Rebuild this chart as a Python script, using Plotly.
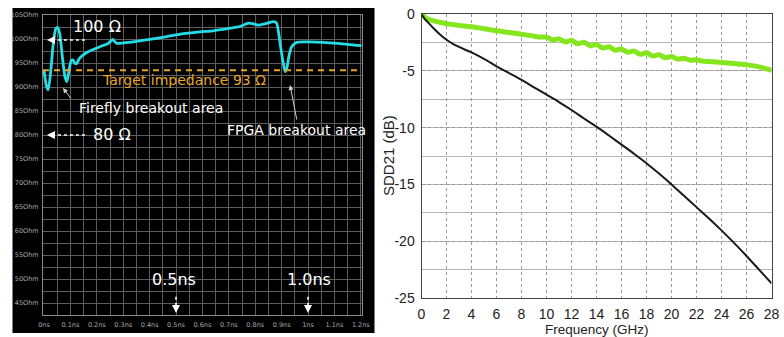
import plotly.graph_objects as go

# ---------------- Left panel: TDR impedance ----------------
tdr_ns = [0.0, 0.008, 0.016, 0.025, 0.035, 0.045, 0.052, 0.06, 0.07, 0.08, 0.087, 0.095,
          0.103, 0.11, 0.116, 0.122, 0.135, 0.149, 0.165, 0.181, 0.212, 0.244, 0.26, 0.275,
          0.3, 0.338, 0.4, 0.465, 0.528, 0.591, 0.641, 0.7, 0.742, 0.774, 0.79, 0.81, 0.84,
          0.869, 0.881, 0.888, 0.894, 0.903, 0.913, 0.92, 0.928, 0.938, 0.957, 1.0, 1.083,
          1.15, 1.203]
tdr_ohm = [93.5, 90.5, 89.4, 93.0, 99.0, 102.2, 102.4, 101.0, 96.0, 92.0, 91.1, 93.5,
           95.5, 95.6, 95.0, 94.8, 96.0, 96.7, 97.3, 97.7, 98.4, 99.1, 99.9, 99.1,
           99.2, 99.4, 99.9, 100.5, 101.1, 101.5, 101.7, 102.2, 102.6, 103.3, 103.2, 102.9, 103.2,
           103.6, 103.3, 101.5, 99.2, 96.0, 93.2, 94.0, 96.5, 98.4, 99.3, 99.4, 99.2,
           98.9, 98.6]
target_ohm = 93.5
tdr_xtick_vals = [0, 0.1, 0.2, 0.3, 0.4, 0.5, 0.6, 0.7, 0.8, 0.9, 1.0, 1.1, 1.2]
tdr_xtick_text = ["0ns", "0.1ns", "0.2ns", "0.3ns", "0.4ns", "0.5ns", "0.6ns", "0.7ns",
                  "0.8ns", "0.9ns", "1ns", "1.1ns", "1.2ns"]
tdr_ytick_vals = [45, 50, 55, 60, 65, 70, 75, 80, 85, 90, 95, 100, 105]
tdr_ytick_text = [f"{v}Ohm" for v in tdr_ytick_vals]

# ---------------- Right panel: SDD21 ----------------
black_f = [0, 0.25, 0.5, 1, 1.5, 2, 2.5, 3, 3.5, 4, 5, 6, 7, 8, 9, 10, 11, 12, 13, 14, 15, 16,
           17, 18, 19, 20, 21, 22, 23, 24, 25, 26, 27, 28]
black_db = [0, -0.42, -0.72, -1.3, -1.82, -2.27, -2.62, -2.9, -3.15, -3.38, -3.95, -4.6, -5.2,
            -5.8, -6.45, -7.1, -7.75, -8.45, -9.2, -9.92, -10.7, -11.5, -12.3, -13.14, -14.05,
            -15.0, -16.0, -17.0, -18.0, -19.05, -20.15, -21.3, -22.5, -23.7]

green_f = [0, 0.5, 1, 2, 3, 4, 5, 6, 7, 8, 9, 9.5, 10, 10.5, 11, 11.5, 12, 12.5, 13, 13.5,
           14, 14.5, 15, 15.5, 16, 16.5, 17, 17.5, 18, 18.5, 19, 19.5, 20, 20.5, 21, 21.5,
           22, 22.5, 23, 24, 25, 26, 27, 28]
green_db = [0, -0.45, -0.6, -0.85, -1.0, -1.13, -1.3, -1.48, -1.62, -1.78, -1.95, -2.03,
            -2.04, -2.29, -2.19, -2.46, -2.33, -2.62, -2.49, -2.81, -2.69, -3.0, -2.88,
            -3.19, -3.07, -3.37, -3.25, -3.55, -3.42, -3.7, -3.59, -3.85, -3.75, -3.97,
            -3.9, -4.07, -4.03, -4.15, -4.18, -4.26, -4.36, -4.48, -4.65, -4.95]
sdd_xtick_vals = list(range(0, 29, 2))
sdd_ytick_vals = [0, -5, -10, -15, -20, -25]
sdd_ytick_text = ["0", "-5", "-10", "-15", "-20", "-25"]

W, H = 784, 337
ARIAL = "Liberation Sans, Arial, Helvetica, sans-serif"


def px(x):
    return x / W


def py(y):
    return (H - y) / H


fig = go.Figure()

fig.add_trace(go.Scatter(x=tdr_ns, y=tdr_ohm, mode="lines", xaxis="x", yaxis="y",
                         line=dict(color="#22dde6", width=2.8, shape="spline", smoothing=0.6),
                         showlegend=False, hoverinfo="skip"))
fig.add_trace(go.Scatter(x=green_f, y=green_db, mode="lines", xaxis="x2", yaxis="y2",
                         line=dict(color="#86e61e", width=5, shape="spline", smoothing=0.8),
                         showlegend=False, hoverinfo="skip"))
fig.add_trace(go.Scatter(x=black_f, y=black_db, mode="lines", xaxis="x2", yaxis="y2",
                         line=dict(color="#1a1a1a", width=2, shape="spline", smoothing=0.8),
                         showlegend=False, hoverinfo="skip"))

shapes = [
    dict(type="rect", xref="paper", yref="paper", x0=px(12.5), x1=px(374.5),
         y0=py(333), y1=py(8), fillcolor="black", line=dict(width=0), layer="below"),
    dict(type="line", xref="x domain", yref="y", x0=0, x1=1, y0=target_ohm, y1=target_ohm,
         line=dict(color="#e8a628", width=2, dash="6px,5px"), layer="above"),
    dict(type="line", xref="x", yref="y", x0=0.155, x1=0.02, y0=99.8, y1=99.8,
         line=dict(color="white", width=1.6, dash="dot")),
    dict(type="line", xref="x", yref="y", x0=0.155, x1=0.02, y0=80.0, y1=80.0,
         line=dict(color="white", width=1.6, dash="dot")),
    dict(type="line", xref="x", yref="y", x0=0.5, x1=0.5, y0=46.3, y1=43.9,
         line=dict(color="white", width=1.6, dash="dot")),
    dict(type="line", xref="x", yref="y", x0=1.0, x1=1.0, y0=46.3, y1=43.9,
         line=dict(color="white", width=1.6, dash="dot")),
]

lfont = dict(family="DejaVu Sans", color="white")
annotations = [
    dict(x=0.201, y=102.5, xref="x", yref="y", text="100 Ω", showarrow=False,
         font=dict(lfont, size=16)),
    dict(x=0.53, y=91.4, xref="x", yref="y", text="Target impedance 93 Ω", showarrow=False,
         font=dict(family="DejaVu Sans", color="#e8a628", size=14)),
    dict(x=0.407, y=85.6, xref="x", yref="y", text="Firefly breakout area", showarrow=False,
         font=dict(lfont, size=14)),
    dict(x=0.256, y=80.2, xref="x", yref="y", text="80 Ω", showarrow=False,
         font=dict(lfont, size=16)),
    dict(x=0.955, y=81.0, xref="x", yref="y", text="FPGA breakout area", showarrow=False,
         font=dict(lfont, size=14)),
    dict(x=0.494, y=50.0, xref="x", yref="y", text="0.5ns", showarrow=False,
         font=dict(lfont, size=16)),
    dict(x=1.004, y=49.8, xref="x", yref="y", text="1.0ns", showarrow=False,
         font=dict(lfont, size=16)),
    dict(x=0.011, y=99.8, xref="x", yref="y", text="", showarrow=True, ax=6, ay=0,
         arrowhead=2, arrowsize=1, arrowwidth=1.6, arrowcolor="white", standoff=0),
    dict(x=0.011, y=80.0, xref="x", yref="y", text="", showarrow=True, ax=6, ay=0,
         arrowhead=2, arrowsize=1, arrowwidth=1.6, arrowcolor="white", standoff=0),
    dict(x=0.5, y=42.9, xref="x", yref="y", text="", showarrow=True, ax=0, ay=-6,
         arrowhead=2, arrowsize=1, arrowwidth=1.6, arrowcolor="white", standoff=0),
    dict(x=1.0, y=42.9, xref="x", yref="y", text="", showarrow=True, ax=0, ay=-6,
         arrowhead=2, arrowsize=1, arrowwidth=1.6, arrowcolor="white", standoff=0),
    dict(x=0.072, y=89.8, xref="x", yref="y", text="", showarrow=True, ax=9, ay=12,
         arrowhead=2, arrowsize=1, arrowwidth=1, arrowcolor="#d0d0d0", standoff=0),
    dict(x=0.932, y=90.4, xref="x", yref="y", text="", showarrow=True, ax=7, ay=36,
         arrowhead=2, arrowsize=1, arrowwidth=1, arrowcolor="#d0d0d0", standoff=0),
    dict(x=px(597), y=py(329), xref="paper", yref="paper", text="Frequency (GHz)",
         xanchor="center", yanchor="middle",
         showarrow=False, font=dict(family=ARIAL, size=13.5, color="#222")),
    dict(x=px(388), y=py(156), xref="paper", yref="paper", text="SDD21 (dB)", textangle=-90,
         xanchor="center", yanchor="middle",
         showarrow=False, font=dict(family=ARIAL, size=15, color="#222")),
]

fig.update_layout(
    width=W, height=H, autosize=False,
    margin=dict(l=0, r=0, t=0, b=0, pad=0, autoexpand=False),
    paper_bgcolor="white",
    plot_bgcolor="rgba(0,0,0,0)",
    showlegend=False,
    shapes=shapes,
    annotations=annotations,
    xaxis=dict(domain=[px(43), px(362)], range=[-0.0038, 1.2045], automargin=False,
               tickvals=tdr_xtick_vals, ticktext=tdr_xtick_text,
               tickfont=dict(family="DejaVu Sans", size=6.5, color="#a8a8a8"),
               showgrid=True, gridcolor="#5c5c5c", gridwidth=1,
               minor=dict(dtick=0.05, tick0=0, showgrid=True, gridcolor="#5c5c5c", gridwidth=1),
               showline=True, linecolor="#8a8a8a", mirror=True, zeroline=False,
               ticks="", ticklabelstandoff=3),
    yaxis=dict(domain=[py(315), py(15)], range=[42.5, 105], automargin=False,
               tickvals=tdr_ytick_vals, ticktext=tdr_ytick_text,
               tickfont=dict(family="DejaVu Sans", size=6.5, color="#a8a8a8"),
               showgrid=True, gridcolor="#5c5c5c", gridwidth=1,
               minor=dict(dtick=2.5, tick0=42.5, showgrid=True, gridcolor="#5c5c5c", gridwidth=1),
               showline=True, linecolor="#8a8a8a", mirror=True, zeroline=False,
               ticks="", ticklabelstandoff=2),
    xaxis2=dict(domain=[px(421.5), px(771.5)], range=[0, 28], anchor="y2", automargin=False,
                tickvals=sdd_xtick_vals, ticktext=[str(v) for v in sdd_xtick_vals],
                tickfont=dict(family=ARIAL, size=14, color="#222"),
                showgrid=True, gridcolor="#9a9a9a", gridwidth=1, griddash="dot",
                showline=True, linecolor="#444", mirror=True, zeroline=False,
                ticks="", ticklabelstandoff=3),
    yaxis2=dict(domain=[py(298), py(14)], range=[-25, 0], anchor="x2", automargin=False,
                tickvals=sdd_ytick_vals, ticktext=sdd_ytick_text,
                tickfont=dict(family=ARIAL, size=14, color="#222"),
                showgrid=True, gridcolor="#9a9a9a", gridwidth=1, griddash="dot",
                minor=dict(dtick=2.5, showgrid=True, gridcolor="#b5b5b5", gridwidth=1,
                           griddash="solid"),
                showline=True, linecolor="#444", mirror=True, zeroline=False,
                ticks="", ticklabelstandoff=3),
)

fig.write_html("out.html", config={"displayModeBar": False},
               post_script="document.body.style.margin='0';document.body.style.overflow='hidden';")
